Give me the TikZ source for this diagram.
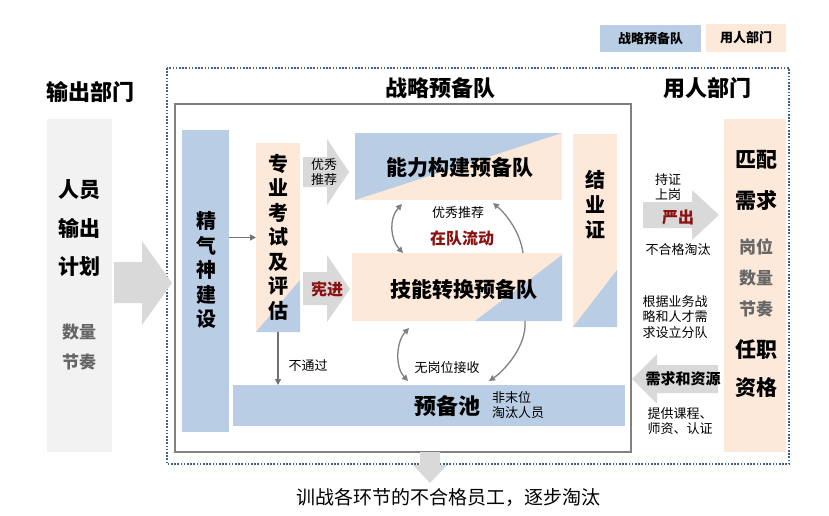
\documentclass[tikz,border=0pt]{standalone}
\usepackage{fontspec}
\setmainfont{Noto Sans CJK SC}
\usetikzlibrary{arrows.meta,calc}
\definecolor{bl}{HTML}{B9CDE5}
\definecolor{pc}{HTML}{FDE9D9}
\definecolor{ga}{HTML}{D9D9D9}
\definecolor{lg}{HTML}{F2F2F2}
\definecolor{dr}{HTML}{8B1010}
\definecolor{dt}{HTML}{3F5F8F}
\definecolor{gt}{HTML}{666666}
\definecolor{ln}{HTML}{808080}
\newcommand{\fsz}[2]{\fontsize{#1}{#2}\selectfont}
\begin{document}
\begin{tikzpicture}[x=1pt,y=-1pt,
  box/.style={anchor=north west, inner sep=0pt, outer sep=0pt, draw=none},
  bigt/.style={font=\fsz{22}{26}\bfseries, inner sep=0pt},
  vt/.style={font=\fsz{20}{24.5}\bfseries, align=center, inner sep=0pt},
  pair/.style={font=\fsz{21}{26}\bfseries, inner sep=0pt},
  gpair/.style={font=\fsz{17}{20}\bfseries, text=gt, inner sep=0pt},
  sm/.style={font=\fsz{13}{15.5}, align=left, inner sep=0pt},
  red/.style={font=\fsz{16}{19}\bfseries, text=dr, inner sep=0pt},
  arr/.style={-{Triangle[length=6pt,width=6pt]}, draw=ln!90!black, line width=1.3pt},
  curv/.style={draw=ln, line width=1.3pt},
  blk/.style={fill=ga, draw=none}]
\useasboundingbox (0,0) rectangle (829,516);

% legend
\node[box, fill=bl, minimum width=101, minimum height=27] (lgb) at (600,25) {};
\node[font=\fsz{13}{15}\bfseries, inner sep=0pt] at (lgb) {战略预备队};
\node[box, fill=pc, minimum width=80, minimum height=28] (lgp) at (706,24) {};
\node[font=\fsz{13}{15}\bfseries, inner sep=0pt] at (lgp) {用人部门};

% frames
\draw[dt, line width=1.6pt, dash pattern=on 1.6pt off 1.6pt] (167,68) rectangle (789,464);
\draw[ln, line width=2pt] (175,104) rectangle (631,452);

% titles
\node[bigt] (t1) at (90,92) {输出部门};
\node[bigt] (t2) at (440,88) {战略预备队};
\node[bigt] (t3) at (707,88) {用人部门};

% left output box
\node[box, fill=lg, minimum width=65, minimum height=333] (out) at (47,119) {};
\node[pair] at (79,190) {人员};
\node[pair] at (79,228) {输出};
\node[pair] at (79,267) {计划};
\node[gpair] at (79,332) {数量};
\node[gpair] at (79,362) {节奏};
\fill[blk] (114,262) -- (142,262) -- (142,241) -- (172,283) -- (142,325) -- (142,303) -- (114,303) -- cycle;

% 精气神建设
\node[box, fill=bl, minimum width=47, minimum height=302] (jqs) at (182,130) {};
\node[vt] at (206,270) {精\\气\\神\\建\\设};

% 专业考试及评估
\node[box, fill=pc, minimum width=44, minimum height=189] (zk) at (256,143) {};
\fill[bl] ($(zk.south east)+(0,-52)$) -- (zk.south east) -- (zk.south west) -- cycle;
\node[vt] at (278,237) {专\\业\\考\\试\\及\\评\\估};
\draw[arr] (jqs.east |- zk.west) -- (zk.west);

% block arrows into teams
\fill[blk] (303,157) -- (327,157) -- (327,139) -- (349,172) -- (327,205) -- (327,187) -- (303,187) -- cycle;
\node[sm, align=center] at (324,172) {优秀\\推荐};
\fill[blk] (303,272) -- (327,272) -- (327,255) -- (350,289) -- (327,322) -- (327,305) -- (303,305) -- cycle;
\node[red] at (327,289) {宪进};

% 能力构建预备队
\node[box, fill=pc, minimum width=207, minimum height=67] (nl) at (355,133) {};
\fill[bl] (nl.north west) -- (nl.north east) -- (nl.south west) -- cycle;
\node[font=\fsz{21}{25}\bfseries, inner sep=0pt] at (460,168) {能力构建预备队};

% 技能转换预备队
\node[box, fill=pc, minimum width=210, minimum height=68] (jn) at (352,253) {};
\fill[bl] ($(jn.north east)+(0,2)$) -- (jn.south east) -- ($(jn.south east)+(-87,0)$) -- cycle;
\node[font=\fsz{21}{25}\bfseries, inner sep=0pt] at (464,290) {技能转换预备队};

% 结业证
\node[box, fill=pc, minimum width=44, minimum height=193] (jy) at (573,134) {};
\fill[bl] ($(jy.south east)+(0,-57)$) -- (jy.south east) -- (jy.south west) -- cycle;
\node[vt, font=\fsz{20}{25}\bfseries] at (595,205) {结\\业\\证};

% 预备池
\node[box, fill=bl, minimum width=392, minimum height=41] (yb) at (233,385) {};
\node[font=\fsz{22}{26}\bfseries, inner sep=0pt] at (447,406) {预备池};
\node[sm, anchor=west] at (492,405) {非末位\\淘汰人员};

\draw[arr] (zk.south) -- (zk.south |- yb.north);
\node[sm] at (308,366) {不通过};

% curved connectors
\draw[curv, {Triangle[length=6pt,width=6pt]}-{Triangle[length=6pt,width=6pt]}]
  ($(nl.south west)+(47,4)$) .. controls +(-13,14) and +(-13,-14) .. ($(jn.north west)+(51,0)$);
\draw[curv, -{Triangle[length=6pt,width=6pt]}]
  ($(jn.north east)+(-39,0)$) .. controls +(-3,-22) and +(12,10) .. ($(nl.south east)+(-69,3)$);
\draw[curv, {Triangle[length=6pt,width=6pt]}-{Triangle[length=6pt,width=6pt]}]
  ($(jn.south west)+(57,7)$) .. controls +(-13,14) and +(-13,-14) .. ($(yb.north west)+(175,-4)$);
\draw[curv, -{Triangle[length=6pt,width=6pt]}]
  ($(jn.south east)+(-37,0)$) .. controls +(2,25) and +(15,-10) .. ($(yb.north west)+(256,-4)$);
\node[sm] at (458,213) {优秀推荐};
\node[red] at (462,238) {在队流动};
\node[sm] at (447,368) {无岗位接收};

% right side
\node[box, fill=pc, minimum width=62, minimum height=333] (yr) at (724,119) {};
\node[pair] at (756,160) {匹配};
\node[pair] at (756,200) {需求};
\node[gpair] at (756,247) {岗位};
\node[gpair] at (756,278) {数量};
\node[gpair] at (756,309) {节奏};
\node[pair] at (756,350) {任职};
\node[pair] at (756,388) {资格};

\fill[blk] (643,202) -- (692,202) -- (692,190) -- (719,215) -- (692,240) -- (692,228) -- (643,228) -- cycle;
\node[sm, align=center] at (668,187) {持证\\上岗};
\node[red] at (678,217) {严出};
\node[sm] at (678,250) {不合格淘汰};

\node[sm] at (675,317) {根据业务战\\略和人才需\\求设立分队};
\fill[blk] (718,365) -- (657,365) -- (657,354) -- (632,379) -- (657,404) -- (657,393) -- (718,393) -- cycle;
\node[font=\fsz{15}{17}\bfseries, inner sep=0pt] at (683,379) {需求和资源};
\node[sm] at (680,421) {提供课程、\\师资、认证};

% bottom
\fill[blk] (420,452) -- (440,452) -- (440,465) -- (447,465) -- (430,483) -- (413,465) -- (420,465) -- cycle;
\node[font=\fsz{19}{22}, inner sep=0pt] at (448,497) {训战各环节的不合格员工，逐步淘汰};
\end{tikzpicture}
\end{document}
